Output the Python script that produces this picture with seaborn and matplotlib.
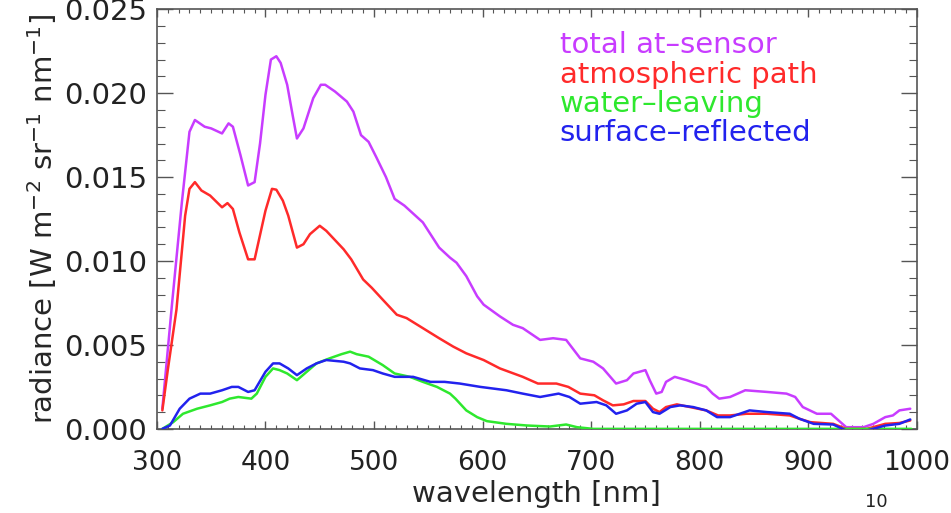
import numpy as np
import pandas as pd
import seaborn as sns
import matplotlib.pyplot as plt
from matplotlib.ticker import MultipleLocator, FormatStrFormatter

# radiance spectra (wavelength in nm, radiance in W m-2 sr-1 nm-1)
total_wl = [305, 314, 323, 330, 335, 344, 350, 360, 366, 370, 377, 384, 390, 395, 400, 405, 410, 414, 420,
            425, 429, 435, 444, 451, 455, 464, 475, 481, 488, 495, 502, 511, 519, 528, 545, 560, 570, 576,
            585, 595, 601, 616, 628, 637, 653, 665, 677, 690, 702, 711, 723, 733, 739, 750, 754, 760, 765,
            769, 777, 788, 797, 806, 812, 818, 828, 842, 862, 880, 888, 895, 908, 921, 928, 935, 951, 960,
            971, 978, 984, 994]
total_val = [0.0012, 0.0075, 0.0135, 0.0177, 0.0184, 0.0180, 0.0179, 0.0176, 0.0182, 0.0180, 0.0163, 0.0145,
             0.0147, 0.0170, 0.0199, 0.0220, 0.0222, 0.0218, 0.0205, 0.0187, 0.0173, 0.0179, 0.0197, 0.0205,
             0.0205, 0.0201, 0.0195, 0.0189, 0.0175, 0.0171, 0.0162, 0.0150, 0.0137, 0.0133, 0.0123, 0.0108,
             0.0102, 0.0099, 0.0091, 0.0079, 0.0074, 0.0067, 0.0062, 0.0060, 0.0053, 0.0054, 0.0053, 0.0042,
             0.0040, 0.0036, 0.0027, 0.0029, 0.0033, 0.0035, 0.0029, 0.0021, 0.0022, 0.0028, 0.0031, 0.0029,
             0.0027, 0.0025, 0.0021, 0.0018, 0.0019, 0.0023, 0.0022, 0.0021, 0.0019, 0.0013, 0.0009, 0.0009,
             0.0005, 0.0001, 0.0001, 0.0003, 0.0007, 0.0008, 0.0011, 0.0012]

path_wl = [305, 310, 318, 326, 330, 335, 341, 349, 360, 365, 370, 376, 384, 390, 400, 406, 410, 416, 421,
           429, 435, 441, 450, 456, 472, 479, 490, 498, 508, 521, 530, 545, 560, 573, 585, 601, 616, 637,
           651, 668, 679, 690, 703, 711, 720, 730, 739, 750, 757, 763, 769, 779, 794, 806, 817, 828, 843,
           862, 883, 892, 902, 923, 935, 954, 971, 984, 994]
path_val = [0.0011, 0.0035, 0.0071, 0.0127, 0.0143, 0.0147, 0.0142, 0.0139, 0.0132, 0.01345, 0.0131, 0.0117,
            0.0101, 0.0101, 0.0130, 0.0143, 0.01425, 0.0136, 0.0127, 0.0108, 0.0110, 0.0116, 0.0121, 0.0118,
            0.0107, 0.0101, 0.0089, 0.0084, 0.0077, 0.0068, 0.0066, 0.0060, 0.0054, 0.0049, 0.0045, 0.0041,
            0.0036, 0.0031, 0.0027, 0.0027, 0.0025, 0.0021, 0.0020, 0.0017, 0.0014, 0.00146, 0.00166, 0.00166,
            0.0012, 0.0010, 0.0013, 0.00146, 0.00126, 0.0011, 0.0008, 0.0008, 0.0009, 0.0009, 0.0008, 0.0006,
            0.0004, 0.0003, 0.0000, 0.0000, 0.0003, 0.00035, 0.0005]

water_wl = [305, 315, 324, 337, 349, 360, 367, 375, 387, 392, 400, 407, 413, 420, 429, 438, 447, 459, 470,
            478, 484, 495, 508, 519, 533, 545, 558, 570, 575, 585, 595, 604, 622, 641, 662, 677, 687, 702,
            800, 900, 995]
water_val = [0.0000, 0.0004, 0.0009, 0.0012, 0.0014, 0.0016, 0.0018, 0.0019, 0.0018, 0.0021, 0.0031, 0.0036,
             0.0035, 0.0033, 0.0029, 0.0034, 0.0039, 0.0042, 0.00445, 0.0046, 0.00445, 0.0043, 0.0038, 0.0033,
             0.0031, 0.0028, 0.0025, 0.0021, 0.0018, 0.0011, 0.0007, 0.00046, 0.0003, 0.0002, 0.00014, 0.00026,
             0.0001, 0.0000, 0.0000, 0.0000, 0.0000]

surface_wl = [305, 312, 321, 330, 340, 349, 360, 369, 375, 384, 390, 400, 407, 413, 421, 429, 438, 447, 456,
              472, 478, 487, 499, 508, 519, 536, 552, 565, 579, 598, 622, 637, 653, 670, 680, 690, 705, 714,
              723, 733, 742, 750, 757, 763, 773, 782, 794, 806, 816, 828, 846, 862, 883, 892, 905, 923, 935,
              954, 971, 984, 994]
surface_val = [0.0000, 0.0002, 0.0012, 0.0018, 0.0021, 0.0021, 0.0023, 0.0025, 0.0025, 0.0022, 0.0023, 0.0034,
               0.0039, 0.0039, 0.0036, 0.0032, 0.0036, 0.0039, 0.0041, 0.0040, 0.0039, 0.0036, 0.0035, 0.0033,
               0.0031, 0.0031, 0.0028, 0.0028, 0.0027, 0.0025, 0.0023, 0.0021, 0.0019, 0.0021, 0.0019, 0.0015,
               0.0016, 0.0014, 0.0009, 0.0011, 0.0015, 0.0016, 0.0010, 0.0009, 0.0013, 0.0014, 0.0013, 0.0011,
               0.0007, 0.0007, 0.0011, 0.0010, 0.0009, 0.0006, 0.0003, 0.00026, -0.0001, -0.0001, 0.0002, 0.0003,
               0.00056]

series_names = ['total at\u2013sensor', 'atmospheric path', 'water\u2013leaving', 'surface\u2013reflected']
series_colors = ['#c83cff', '#ff2a2a', '#2ee82e', '#2222ee']

frames = []
for name, wl, val in zip(series_names,
                         [total_wl, path_wl, water_wl, surface_wl],
                         [total_val, path_val, water_val, surface_val]):
    frames.append(pd.DataFrame({'wavelength': wl, 'radiance': val, 'component': name}))
df = pd.concat(frames, ignore_index=True)

sns.set_style("white")
plt.rcParams['font.family'] = ['DejaVu Sans']
plt.rcParams['text.color'] = '#222222'

fig = plt.figure(figsize=(9.51, 5.13), dpi=100)
ax = fig.add_axes([0.165, 0.164, 0.799, 0.818])

sns.lineplot(data=df, x='wavelength', y='radiance', hue='component', hue_order=series_names,
             palette=dict(zip(series_names, series_colors)), estimator=None, sort=False,
             linewidth=1.8, ax=ax)

ax.set_xlim(300, 1000)
ax.set_ylim(0, 0.025)
ax.xaxis.set_major_locator(MultipleLocator(100))
ax.xaxis.set_minor_locator(MultipleLocator(10))
ax.yaxis.set_major_locator(MultipleLocator(0.005))
ax.yaxis.set_minor_locator(MultipleLocator(0.001))
ax.yaxis.set_major_formatter(FormatStrFormatter('%.3f'))

# frame under the curves, so the flat water-leaving line shows on the bottom axis
frame_col = '#555555'
for s in ax.spines.values():
    s.set_color(frame_col)
    s.set_linewidth(1.2)
    s.set_zorder(1.5)
ax.tick_params(axis='x', which='both', direction='in', top=True, bottom=True, color=frame_col,
               labelsize=19, labelcolor='#222222', pad=15)
ax.tick_params(axis='x', which='major', length=6, width=1)
ax.tick_params(axis='x', which='minor', length=3, width=0.8)
ax.tick_params(axis='y', which='both', direction='in', left=True, right=True, color=frame_col,
               labelsize=21, labelcolor='#222222', pad=7)
ax.tick_params(axis='y', which='major', length=11.5, width=1)
ax.tick_params(axis='y', which='minor', length=5.8, width=0.8)

ax.set_xlabel('wavelength [nm]', fontsize=21, labelpad=3)
ax.set_ylabel(r'radiance [W m$^{-2}$ sr$^{-1}$ nm$^{-1}$]', fontsize=21, labelpad=4)

leg = ax.legend(loc='upper left', bbox_to_anchor=(0.53, 0.948), frameon=False, fontsize=21,
                handlelength=0, handletextpad=0, borderpad=0, borderaxespad=0, labelspacing=0.05,
                labelcolor='linecolor')
for h in leg.legend_handles:
    h.set_visible(False)

fig.text(0.921, 0.004, '10', ha='center', va='bottom', fontsize=13, color='#222222')

fig.savefig('out.png', dpi=100)
